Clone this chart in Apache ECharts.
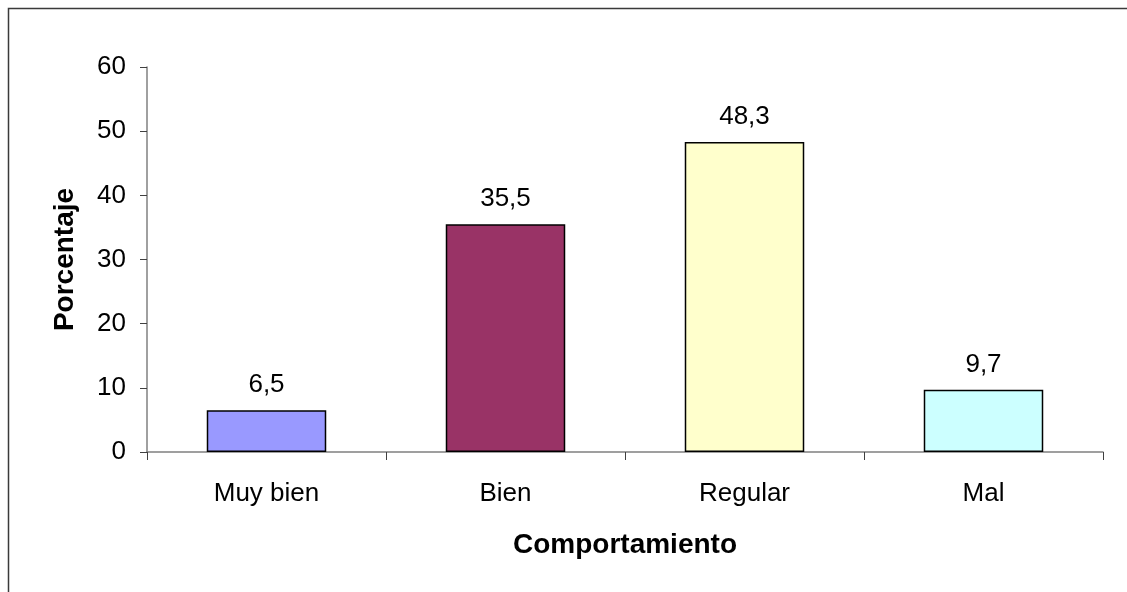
<!DOCTYPE html>
<html>
<head>
<meta charset="utf-8">
<script src="https://cdn.jsdelivr.net/npm/echarts@6/dist/echarts.min.js"></script>
<style>
  html, body { margin: 0; padding: 0; background: #fff; }
  #chart { width: 1127px; height: 592px; }
</style>
</head>
<body>
<div id="chart"></div>
<script>
// Behaviour ratings and their share of the sample (%)
const categories = ['Muy bien', 'Bien', 'Regular', 'Mal'];
const percentages = [6.5, 35.5, 48.3, 9.7];
const barColors = ['#9999FF', '#993366', '#FFFFCC', '#CCFFFF'];
const yTicks = { min: 0, max: 60, interval: 10 };

const font = '"Liberation Sans", Arial, sans-serif';
const chart = echarts.init(document.getElementById('chart'), null, { renderer: 'canvas' });

chart.setOption({
  animation: false,
  backgroundColor: '#ffffff',
  graphic: [{
    type: 'rect',
    shape: { x: 8.5, y: 8.5, width: 1200, height: 700 },
    style: { fill: 'none', stroke: '#3a3a3a', lineWidth: 1.5 },
    silent: true
  }],
  grid: { left: 147, right: 24, top: 67, bottom: 140, containLabel: false },
  xAxis: {
    type: 'category',
    data: categories,
    name: 'Comportamiento',
    nameLocation: 'middle',
    nameGap: 79,
    nameTextStyle: { fontFamily: font, fontSize: 28, fontWeight: 'bold', color: '#000' },
    axisLine: { lineStyle: { color: '#808080', width: 1.5 } },
    axisTick: { show: true, length: 8, alignWithLabel: false, lineStyle: { color: '#404040', width: 1 } },
    axisLabel: { fontFamily: font, fontSize: 26, color: '#000', margin: 29 },
    splitLine: { show: false }
  },
  yAxis: {
    type: 'value',
    min: yTicks.min,
    max: yTicks.max,
    interval: yTicks.interval,
    name: 'Porcentaje',
    nameLocation: 'middle',
    nameRotate: 90,
    nameGap: 68,
    nameTextStyle: { fontFamily: font, fontSize: 28, fontWeight: 'bold', color: '#000' },
    axisLine: { show: true, lineStyle: { color: '#808080', width: 1.5 } },
    axisTick: { show: true, length: 7, lineStyle: { color: '#404040', width: 1 } },
    axisLabel: { fontFamily: font, fontSize: 26, color: '#000', margin: 21 },
    splitLine: { show: false }
  },
  series: [{
    type: 'bar',
    data: percentages.map((v, i) => ({ value: v, itemStyle: { color: barColors[i] } })),
    barWidth: '50%',
    itemStyle: { borderColor: '#000', borderWidth: 1.5 },
    label: {
      show: true,
      position: 'top',
      distance: 12,
      fontFamily: font,
      fontSize: 26,
      color: '#000',
      formatter: p => String(p.value).replace('.', ',')
    }
  }]
});
</script>
</body>
</html>
